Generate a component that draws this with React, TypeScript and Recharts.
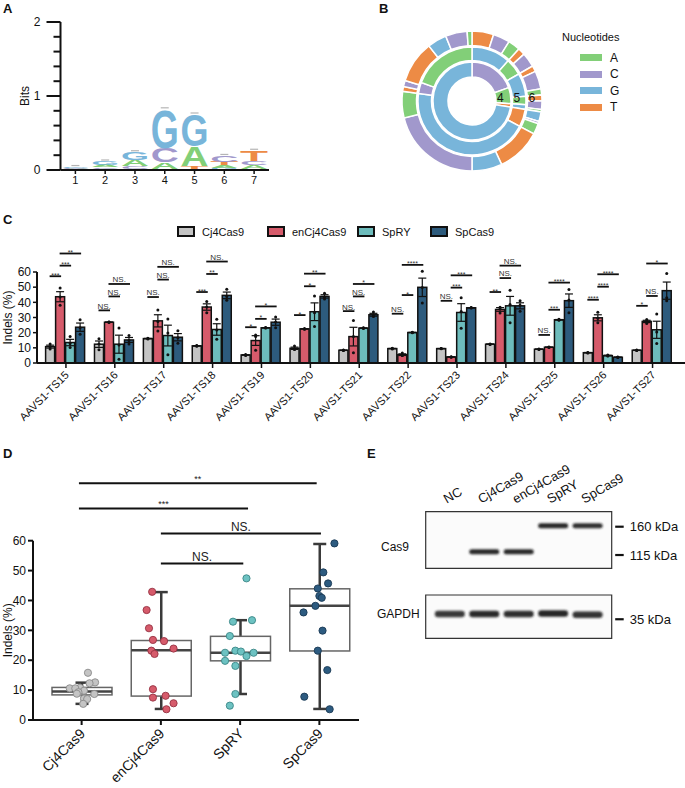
import React from "react";
import {
  BarChart,
  Bar,
  XAxis,
  YAxis,
  ErrorBar,
  PieChart,
  Pie,
  Cell,
  ComposedChart,
  Scatter,
  ScatterChart,
  ReferenceLine,
  ReferenceArea,
} from "recharts";

const FONT = "'Liberation Sans', Arial, Helvetica, sans-serif";
const INK = "#111";

const NT_COLORS: Record<string, string> = {
  A: "#82cf78",
  C: "#a198cc",
  G: "#78b5da",
  T: "#ed8b45",
};

// ---------- A: sequence logo (bits per position, letters bottom -> top)
const logoPositions = ["1", "2", "3", "4", "5", "6", "7"];
const logoLetters = [
  ["T", "A", "C", "G"],
  ["T", "C", "A", "G"],
  ["T", "C", "A", "G"],
  ["T", "A", "C", "G"],
  ["C", "T", "A", "G"],
  ["G", "A", "T", "C"],
  ["G", "A", "C", "T"],
];
const logoBits = [
  [0.008, 0.01, 0.01, 0.012],
  [0.015, 0.02, 0.035, 0.045],
  [0.015, 0.035, 0.09, 0.1],
  [0.02, 0.09, 0.19, 0.52],
  [0.02, 0.03, 0.27, 0.43],
  [0.03, 0.035, 0.045, 0.08],
  [0.02, 0.045, 0.055, 0.14],
];
const logoTicks = [0, 0.2, 0.4, 0.6, 0.8, 1, 1.2, 1.4, 1.6, 1.8, 2];

// ---------- B: sunburst rings (positions 4, 5, 6), sizes in degrees, clockwise from 12 o'clock
const ring4Nt = ["C", "A", "T", "G"];
const ring4Size = [70, 24, 5, 261];
const ring5Nt = ["G", "A", "G", "A", "G", "T", "G", "C", "A"];
const ring5Size = [42, 18, 25, 9, 5, 19, 160, 12, 70];
const ring6Nt = ["T", "C", "A", "T", "C", "T", "C", "A", "T", "C", "A", "G", "C", "A", "T", "G", "C", "A", "T", "C", "T", "G", "C", "A"];
const ring6Size = [18, 14, 10, 6, 12, 5, 15, 5, 5, 7, 2, 8, 2, 9, 37, 25, 76, 22, 4, 5, 35, 16, 18, 4];
const nucleotides = ["A", "C", "G", "T"];

// ---------- C: indels per target site
const sites = [
  "AAVS1-TS15", "AAVS1-TS16", "AAVS1-TS17", "AAVS1-TS18", "AAVS1-TS19", "AAVS1-TS20", "AAVS1-TS21",
  "AAVS1-TS22", "AAVS1-TS23", "AAVS1-TS24", "AAVS1-TS25", "AAVS1-TS26", "AAVS1-TS27",
];
const cj4Mean = [10.8, 12.4, 16.1, 11.3, 5.3, 9.7, 8.4, 9.5, 9.5, 12.4, 9.1, 6.8, 8.4];
const enMean = [43.7, 26.9, 27.8, 36.9, 14.8, 22.5, 17.4, 5.5, 4.0, 35.3, 10.4, 29.8, 27.4];
const spryMean = [13.5, 12.4, 18.1, 22.1, 23.2, 33.8, 23.0, 20.1, 33.3, 37.7, 28.5, 4.9, 21.9];
const spMean = [23.6, 15.2, 17.0, 44.6, 26.9, 43.9, 31.8, 49.9, 36.4, 37.7, 41.1, 3.8, 47.7];

const cj4Reps = [
  [12.6, 10.5, 9.3], [16.0, 12.5, 8.7], [16.3, 15.9, 16.1], [11.1, 11.5, 11.3], [5.6, 5.0, 5.3],
  [11.2, 9.0, 8.9], [8.6, 8.2, 8.4], [9.7, 9.3, 9.5], [9.6, 9.4, 9.5], [12.6, 12.2, 12.4],
  [9.3, 8.9, 9.1], [7.0, 6.6, 6.8], [8.6, 8.2, 8.4],
];
const enReps = [
  [49.5, 43.5, 38.0], [26.7, 27.0, 27.0], [35.0, 27.3, 21.1], [40.5, 37.0, 33.2], [18.5, 17.5, 8.4],
  [22.3, 22.5, 22.7], [28.0, 17.5, 6.7], [6.6, 5.0, 4.9], [4.2, 4.0, 3.8], [36.8, 36.2, 32.9],
  [10.6, 10.4, 10.2], [33.4, 29.5, 26.5], [28.6, 27.6, 26.0],
];
const spryReps = [
  [17.4, 12.9, 10.2], [23.0, 11.8, 2.4], [29.0, 19.8, 5.5], [28.8, 21.8, 15.7], [23.4, 23.2, 23.0],
  [44.2, 33.2, 24.0], [23.2, 23.0, 22.8], [20.3, 20.1, 19.9], [43.0, 34.0, 22.9], [48.0, 38.5, 26.6],
  [28.8, 28.5, 28.2], [5.3, 4.8, 4.6], [32.3, 20.5, 12.9],
];
const spReps = [
  [28.5, 23.3, 19.0], [18.2, 14.8, 12.6], [21.3, 16.7, 13.0], [48.7, 43.8, 41.3], [30.4, 27.0, 23.3],
  [46.0, 43.5, 42.2], [33.7, 31.0, 30.7], [60.5, 49.7, 39.5], [36.6, 36.4, 36.2], [41.0, 38.0, 34.1],
  [48.5, 41.6, 33.2], [3.9, 3.8, 3.7], [59.0, 43.0, 41.1],
];

// [from bar, to bar, height (%), label]
const siteBrackets: [number, number, number, string][][] = [
  [[0, 1, 57.2, "***"], [1, 2, 64.2, "***"], [1, 3, 72.2, "**"]],
  [[0, 1, 34.7, "NS."], [1, 2, 43.9, "NS."], [1, 3, 52.1, "NS."]],
  [[0, 1, 43.5, "NS."], [1, 2, 55.0, "NS."], [1, 3, 63.4, "NS."]],
  [[0, 1, 46.8, "***"], [1, 2, 58.7, "**"], [1, 3, 66.9, "NS."]],
  [[0, 1, 23.6, "*"], [1, 2, 29.1, "*"], [1, 3, 37.3, "*"]],
  [[0, 1, 31.6, "*"], [1, 2, 50.6, "*"], [1, 3, 58.9, "**"]],
  [[0, 1, 34.2, "NS."], [1, 2, 43.9, "NS."], [1, 3, 52.1, "*"]],
  [[0, 1, 32.5, "NS."], [1, 2, 44.8, "*"], [1, 3, 64.7, "****"]],
  [[0, 1, 41.0, "NS."], [1, 2, 49.7, "***"], [1, 3, 57.8, "***"]],
  [[0, 1, 46.8, "**"], [1, 2, 56.0, "NS."], [1, 3, 64.2, "NS."]],
  [[0, 1, 18.5, "NS."], [1, 2, 35.1, "***"], [1, 3, 53.0, "****"]],
  [[0, 1, 41.7, "****"], [1, 2, 50.3, "****"], [1, 3, 58.5, "****"]],
  [[0, 1, 37.7, "*"], [1, 2, 44.2, "NS."], [1, 3, 65.6, "*"]],
];

const SERIES = [
  { key: "cj4", name: "Cj4Cas9", color: "#c4c4c4", mean: cj4Mean, reps: cj4Reps },
  { key: "en", name: "enCj4Cas9", color: "#d65b6b", mean: enMean, reps: enReps },
  { key: "spry", name: "SpRY", color: "#6dbcbc", mean: spryMean, reps: spryReps },
  { key: "sp", name: "SpCas9", color: "#2d5b7d", mean: spMean, reps: spReps },
];

// ---------- D: distribution over sites
const groups = ["Cj4Cas9", "enCj4Cas9", "SpRY", "SpCas9"];
const boxQ1 = [8.4, 8.0, 19.8, 23.1];
const boxMedian = [9.5, 23.3, 22.5, 38.2];
const boxQ3 = [10.9, 26.6, 28.0, 43.9];
const whiskerLow = [5.4, 3.7, 8.7, 3.7];
const whiskerHigh = [12.5, 42.8, 33.4, 58.9];
const dotValues = [
  [15.8, 12.6, 12.3, 10.8, 10.6, 10.6, 9.8, 9.3, 8.8, 8.7, 7.2, 7.0, 5.4],
  [42.9, 36.8, 30.7, 26.8, 26.4, 23.9, 23.2, 22.1, 10.3, 8.1, 7.5, 5.6, 3.6],
  [47.4, 33.4, 32.9, 28.1, 23.2, 22.9, 22.5, 22.5, 21.4, 19.8, 18.1, 8.7, 4.8],
  [59.1, 49.4, 45.7, 44.0, 41.5, 40.9, 38.2, 36.0, 29.9, 23.2, 16.7, 7.8, 3.6],
];
const dotJitter = [
  [0.08, 0.17, 0.1, -0.02, -0.15, -0.08, 0.03, -0.04, -0.06, 0.16, 0.03, 0.07, 0.02],
  [-0.11, -0.18, -0.15, -0.1, 0.04, 0.16, -0.12, -0.08, -0.1, 0.06, -0.1, 0.16, 0.07],
  [0.08, 0.15, -0.09, -0.13, -0.06, 0.01, -0.19, 0.17, 0.08, -0.19, -0.06, -0.06, -0.13],
  [0.19, 0.05, 0.11, -0.02, 0.0, 0.03, -0.05, -0.2, 0.04, -0.02, 0.1, -0.19, 0.13],
];
const dotFill = ["#c4c4c4", "#d65b6b", "#6dc2c2", "#2d5b80"];
const dotStroke = ["#8a8a8a", "#963243", "#3b8787", "#1b3a55"];
const groupBrackets = [
  { from: 0.966, to: 3.966, y: 79.2, label: "**" },
  { from: 0.966, to: 3.1, y: 70.8, label: "***" },
  { from: 2.0, to: 4.02, y: 62.4, label: "NS." },
  { from: 2.0, to: 3.04, y: 52.4, label: "NS." },
];

// ---------- E: western blot
const lanes = ["NC", "Cj4Cas9", "enCj4Cas9", "SpRY", "SpCas9"];
const cas9BandLane = [2, 3, 4, 5];
const cas9BandKda = [119.5, 119.5, 162, 162];
const cas9BandLevel = [0.95, 0.95, 0.95, 0.92];
const gapdhBandLane = [1, 2, 3, 4, 5];
const gapdhBandKda = [37.2, 37.2, 37.2, 37.4, 36.9];
const gapdhBandLevel = [0.88, 0.94, 0.92, 0.96, 0.9];
const cas9Markers = [160, 115];
const gapdhMarkers = [35];

// ---------- derived tables
const logoData = logoPositions.map((pos, i) => {
  const row: any = { pos };
  logoLetters[i].forEach((nt, k) => {
    row[`b${k}`] = logoBits[i][k];
    row[`n${k}`] = nt;
  });
  return row;
});

const ring = (nts: string[], sizes: number[]) => nts.map((nt, i) => ({ nt, value: sizes[i] }));
const rings = [
  { label: "4", data: ring(ring4Nt, ring4Size), inner: 24, outer: 39 },
  { label: "5", data: ring(ring5Nt, ring5Size), inner: 40.5, outer: 54 },
  { label: "6", data: ring(ring6Nt, ring6Size), inner: 55.5, outer: 70 },
];

const sem = (xs: number[]) => {
  const m = xs.reduce((a, b) => a + b, 0) / xs.length;
  const v = xs.reduce((a, b) => a + (b - m) ** 2, 0) / (xs.length - 1);
  return Math.sqrt(v / xs.length);
};

const indelData = sites.map((site, i) => {
  const row: any = { site, brackets: siteBrackets[i] };
  SERIES.forEach((s) => {
    row[s.key] = s.mean[i];
    row[`${s.key}Err`] = sem(s.reps[i]);
    row[`${s.key}Reps`] = s.reps[i];
  });
  return row;
});

const boxData = groups.map((name, i) => ({
  name,
  whisk: [whiskerLow[i], whiskerHigh[i]],
  lo: whiskerLow[i],
  hi: whiskerHigh[i],
  q1: boxQ1[i],
  med: boxMedian[i],
  q3: boxQ3[i],
}));
const dotData = dotValues.map((vals, g) => vals.map((v, i) => ({ x: g + 1 + dotJitter[g][i], y: v })));

const cas9Data = cas9BandLane.map((lane, i) => ({ lane, kda: cas9BandKda[i], level: cas9BandLevel[i] }));
const gapdhData = gapdhBandLane.map((lane, i) => ({ lane, kda: gapdhBandKda[i], level: gapdhBandLevel[i] }));

// ---------- shared pieces
const axisTitle = (text: string, cx: number) => (p: any) => {
  const vb = p.viewBox || {};
  const cy = (vb.y || 0) + (vb.height || 0) / 2;
  return (
    <text x={cx} y={cy} transform={`rotate(-90 ${cx} ${cy})`} textAnchor="middle" dominantBaseline="central" fontSize={12} fill={INK} fontFamily={FONT}>
      {text}
    </text>
  );
};

const Txt = ({ x, y, size = 12, bold = false, children }: any) => (
  <div style={{ position: "absolute", left: x, top: y, transform: "translateY(-50%)", fontSize: size, lineHeight: 1, fontWeight: bold ? 700 : 400, whiteSpace: "nowrap" }}>
    {children}
  </div>
);

// ---------- A shapes
const LogoLetter = (p: any) => {
  const { x, y, width, height, nt, top } = p;
  const h = Math.abs(height);
  const yTop = Math.min(y, y + height);
  return (
    <g>
      {h > 0.4 && (
        <text
          x={0}
          y={0}
          fontSize={100}
          fontWeight="bold"
          fontFamily={FONT}
          fill={NT_COLORS[nt]}
          textLength={width}
          lengthAdjust="spacingAndGlyphs"
          transform={`translate(${x},${yTop + h}) scale(1,${h / 72})`}
        >
          {nt}
        </text>
      )}
      {top && <line x1={x + width / 2 - 4} x2={x + width / 2 + 4} y1={yTop - 1.5} y2={yTop - 1.5} stroke="#b5b5b5" strokeWidth={1.2} />}
    </g>
  );
};

const LogoTick = (p: any) => {
  const v = p.payload.value;
  const major = Number.isInteger(v);
  return (
    <g>
      <line x1={p.x - (major ? 14 : 7)} x2={p.x} y1={p.y} y2={p.y} stroke={INK} strokeWidth={2} />
      {major && (
        <text x={p.x - 20} y={p.y} dy="0.35em" textAnchor="end" fontSize={12} fill={INK}>
          {v}
        </text>
      )}
    </g>
  );
};

// ---------- C shapes
const BAR_GAP = 1;
const makeIndelBar = (key: string, color: string, withBrackets: boolean) => (p: any) => {
  const { x, y, width, height, payload } = p;
  const val = payload[key];
  const top = Math.min(y, y + height);
  const h = Math.abs(height);
  const base = top + h;
  const ppu = h / val;
  const cx = x + width / 2;
  return (
    <g>
      <rect x={x} y={top} width={width} height={h} fill={color} stroke={INK} strokeWidth={1.5} />
      {payload[`${key}Reps`].map((r: number, j: number) => (
        <circle key={j} cx={cx} cy={base - r * ppu} r={1.5} fill={INK} />
      ))}
      {withBrackets &&
        payload.brackets.map(([a, b, lvl, lab]: any, j: number) => {
          const x1 = x + a * (width + BAR_GAP) + width / 2 - 0.5;
          const x2 = x + b * (width + BAR_GAP) + width / 2 + 1;
          const yy = base - lvl * ppu;
          const star = lab !== "NS.";
          return (
            <g key={`b${j}`}>
              <line x1={x1} x2={x2} y1={yy} y2={yy} stroke={INK} strokeWidth={1.8} />
              <text x={(x1 + x2) / 2} y={star ? yy + 1.5 : yy - 1.6} textAnchor="middle" fontSize={star ? 7 : 8} fill="#333" fontFamily={FONT}>
                {lab}
              </text>
            </g>
          );
        })}
    </g>
  );
};

const SiteTick = (p: any) => (
  <g transform={`translate(${p.x + 1},${p.y + 3})`}>
    <text x={0} y={0} dy="0.35em" textAnchor="end" transform="rotate(-45)" fontSize={11} fill={INK} fontFamily={FONT}>
      {p.payload.value}
    </text>
  </g>
);

// ---------- D shapes
const BoxShape = (p: any) => {
  const { x, y, width, height, payload } = p;
  const top = Math.min(y, y + height);
  const h = Math.abs(height);
  const ppu = h / (payload.hi - payload.lo);
  const py = (v: number) => top + (payload.hi - v) * ppu;
  const cx = x + width / 2;
  const cap = 6.5;
  return (
    <g>
      <line x1={cx} x2={cx} y1={py(payload.hi)} y2={py(payload.lo)} stroke="#3a3a3a" strokeWidth={2.5} />
      <line x1={cx - cap} x2={cx + cap} y1={py(payload.hi)} y2={py(payload.hi)} stroke="#3a3a3a" strokeWidth={2.5} />
      <line x1={cx - cap} x2={cx + cap} y1={py(payload.lo)} y2={py(payload.lo)} stroke="#3a3a3a" strokeWidth={2.5} />
      <rect x={x} y={py(payload.q3)} width={width} height={py(payload.q1) - py(payload.q3)} fill="#fff" stroke="#666" strokeWidth={1.5} />
      <line x1={x} x2={x + width} y1={py(payload.med)} y2={py(payload.med)} stroke="#444" strokeWidth={2.5} />
    </g>
  );
};

const GroupTick = (p: any) => (
  <g transform={`translate(${p.x + 1},${p.y + 4})`}>
    <text x={0} y={0} dy="0.35em" textAnchor="end" transform="rotate(-45)" fontSize={14} fill={INK} fontFamily={FONT}>
      {p.payload.value}
    </text>
  </g>
);

const bracketLabel = (text: string) => (p: any) => {
  const vb = p.viewBox || {};
  const cx = (vb.x || 0) + (vb.width || 0) / 2;
  const star = text !== "NS.";
  return (
    <text x={cx} y={(vb.y || 0) + (star ? -1.4 : -2.5)} textAnchor="middle" fontSize={star ? 9 : 12} fill="#222" fontFamily={FONT}>
      {text}
    </text>
  );
};

// ---------- E shapes
const makeBand = (thick: number) => (p: any) => {
  const { cx, cy, payload } = p;
  return (
    <g>
      <defs>
        <filter id="bandBlur" x="-30%" y="-200%" width="160%" height="500%">
          <feGaussianBlur stdDeviation="1.1" />
        </filter>
      </defs>
      <rect x={cx - 15} y={cy - thick / 2} width={30} height={thick} rx={thick / 2} fill="#1c1c1c" fillOpacity={payload.level} filter="url(#bandBlur)" />
    </g>
  );
};

const LaneTick = (p: any) => {
  const x = p.x - 3;
  const y = p.y - 8;
  return (
    <text x={x} y={y} transform={`rotate(-30 ${x} ${y})`} textAnchor="start" fontSize={13} fill={INK} fontFamily={FONT}>
      {lanes[p.payload.value - 1]}
    </text>
  );
};

const MarkerTick = (p: any) => (
  <g>
    <line x1={p.x + 3.5} x2={p.x + 12} y1={p.y} y2={p.y} stroke={INK} strokeWidth={2.2} />
    <text x={p.x + 18} y={p.y} dy="0.35em" fontSize={13} fill={INK} fontFamily={FONT}>
      {`${p.payload.value} kDa`}
    </text>
  </g>
);

const axisLine = { stroke: INK, strokeWidth: 2 };
const tickLine = { stroke: INK, strokeWidth: 1.5 };
const C_LEGEND_X = [177, 267, 357, 430];

export default function App() {
  return (
    <div style={{ position: "absolute", left: 0, top: 0, width: 685, height: 788, background: "#fff", fontFamily: FONT, color: INK, overflow: "hidden" }}>
      {/* panel letters */}
      <Txt x={3} y={8} size={13} bold>A</Txt>
      <Txt x={379} y={8} size={13} bold>B</Txt>
      <Txt x={3} y={219} size={13} bold>C</Txt>
      <Txt x={3} y={453} size={13} bold>D</Txt>
      <Txt x={367} y={453} size={13} bold>E</Txt>

      {/* A */}
      <div style={{ position: "absolute", left: 0, top: 0 }}>
        <BarChart width={280} height={195} data={logoData} margin={{ top: 22, right: 11, bottom: 0, left: 0 }} barCategoryGap="3%">
          <XAxis dataKey="pos" height={25} axisLine={axisLine} tickLine={tickLine} tickSize={4} tick={{ fontSize: 11, fill: INK }} />
          <YAxis
            width={60.5}
            domain={[0, 2]}
            ticks={logoTicks}
            interval={0}
            axisLine={axisLine}
            tickLine={false}
            tickSize={0}
            tickMargin={0}
            tick={<LogoTick />}
            label={{ position: "insideLeft", content: axisTitle("Bits", 25) }}
          />
          {[0, 1, 2, 3].map((k) => (
            <Bar
              key={k}
              dataKey={`b${k}`}
              stackId="logo"
              isAnimationActive={false}
              shape={(p: any) => <LogoLetter {...p} nt={p.payload[`n${k}`]} top={k === 3} />}
            />
          ))}
        </BarChart>
      </div>

      {/* B */}
      <div style={{ position: "absolute", left: 397, top: 26 }}>
        <PieChart width={150} height={150}>
          {rings.map((r) => (
            <Pie
              key={r.label}
              data={r.data}
              dataKey="value"
              cx="50%"
              cy="50%"
              innerRadius={r.inner}
              outerRadius={r.outer}
              startAngle={90}
              endAngle={-270}
              stroke="#fff"
              strokeWidth={1.5}
              isAnimationActive={false}
              labelLine={false}
              label={(p: any) =>
                p.index === 0 ? (
                  <text x={p.cx + r.inner + 1} y={p.cy - 3} textAnchor="start" dominantBaseline="central" fontSize={12} fill={INK} fontFamily={FONT}>
                    {r.label}
                  </text>
                ) : null
              }
            >
              {r.data.map((d, i) => (
                <Cell key={i} fill={NT_COLORS[d.nt]} />
              ))}
            </Pie>
          ))}
        </PieChart>
      </div>
      <Txt x={562} y={37} size={11}>Nucleotides</Txt>
      {nucleotides.map((nt, i) => (
        <React.Fragment key={nt}>
          <div style={{ position: "absolute", left: 580, top: 54 + i * 16.5, width: 22, height: 7, background: NT_COLORS[nt] }} />
          <Txt x={610} y={57.5 + i * 16.5} size={12}>{nt}</Txt>
        </React.Fragment>
      ))}

      {/* C legend */}
      {SERIES.map((s, i) => (
        <React.Fragment key={s.key}>
          <div style={{ position: "absolute", left: C_LEGEND_X[i], top: 226, width: 14, height: 7, background: s.color, border: `2px solid ${INK}` }} />
          <Txt x={C_LEGEND_X[i] + 25} y={232} size={11}>{s.name}</Txt>
        </React.Fragment>
      ))}

      {/* C */}
      <div style={{ position: "absolute", left: 0, top: 240 }}>
        <BarChart width={685} height={210} data={indelData} margin={{ top: 32, right: 0, bottom: 0, left: 0 }} barCategoryGap="8.4%" barGap={BAR_GAP}>
          <XAxis dataKey="site" interval={0} height={87} padding={{ left: 4.5, right: 8 }} axisLine={axisLine} tickLine={tickLine} tickSize={5} tick={<SiteTick />} />
          <YAxis
            width={37}
            domain={[0, 60]}
            ticks={[0, 10, 20, 30, 40, 50, 60]}
            interval={0}
            axisLine={axisLine}
            tickLine={tickLine}
            tickSize={4}
            tickMargin={2}
            tick={{ fontSize: 12, fill: INK }}
            label={{ position: "insideLeft", content: axisTitle("Indels (%)", 8) }}
          />
          {SERIES.map((s, i) => (
            <Bar key={s.key} dataKey={s.key} name={s.name} isAnimationActive={false} shape={makeIndelBar(s.key, s.color, i === 0)}>
              <ErrorBar dataKey={`${s.key}Err`} width={4} stroke={INK} strokeWidth={1.2} isAnimationActive={false} />
            </Bar>
          ))}
        </BarChart>
      </div>

      {/* D */}
      <div style={{ position: "absolute", left: 0, top: 465 }}>
        <ComposedChart width={360} height={323} data={boxData} margin={{ top: 75.7, right: 1, bottom: 0, left: 0 }}>
          <XAxis xAxisId="c" dataKey="name" interval={0} height={68} padding={{ left: 9, right: 0 }} axisLine={axisLine} tickLine={{ stroke: INK, strokeWidth: 2 }} tickSize={5} tick={<GroupTick />} />
          <XAxis xAxisId="n" type="number" dataKey="x" domain={[0.5, 4.5]} padding={{ left: 9, right: 0 }} hide allowDataOverflow />
          <YAxis
            width={33}
            domain={[0, 60]}
            ticks={[0, 10, 20, 30, 40, 50, 60]}
            interval={0}
            axisLine={axisLine}
            tickLine={{ stroke: INK, strokeWidth: 2 }}
            tickSize={5}
            tickMargin={2}
            tick={{ fontSize: 12, fill: INK }}
            label={{ position: "insideLeft", content: axisTitle("Indels (%)", 8) }}
          />
          <Bar xAxisId="c" dataKey="whisk" barSize={60} isAnimationActive={false} shape={BoxShape} />
          {dotData.map((d, g) => (
            <Scatter
              key={groups[g]}
              xAxisId="n"
              data={d}
              dataKey="y"
              isAnimationActive={false}
              shape={(p: any) => <circle cx={p.cx} cy={p.cy} r={3.6} fill={dotFill[g]} stroke={dotStroke[g]} strokeWidth={0.9} />}
            />
          ))}
          {groupBrackets.map((b, i) => (
            <ReferenceLine
              key={i}
              xAxisId="n"
              segment={[{ x: b.from, y: b.y }, { x: b.to, y: b.y }]}
              ifOverflow="visible"
              stroke={INK}
              strokeWidth={2}
              label={{ content: bracketLabel(b.label) }}
            />
          ))}
        </ComposedChart>
      </div>

      {/* E */}
      <Txt x={381} y={547} size={12}>Cas9</Txt>
      <Txt x={377} y={614} size={12}>GAPDH</Txt>
      <div style={{ position: "absolute", left: 400, top: 465 }}>
        <ScatterChart width={285} height={110} margin={{ top: 0, right: 0, bottom: 6.7, left: 25.7 }}>
          <XAxis type="number" dataKey="lane" domain={[0.3, 5.7]} orientation="top" height={46.7} ticks={[1, 2, 3, 4, 5]} interval={0} axisLine={false} tickLine={false} tickSize={0} tickMargin={0} tick={<LaneTick />} />
          <YAxis type="number" dataKey="kda" scale="log" domain={[98.5, 190.6]} orientation="right" width={73.3} ticks={cas9Markers} interval={0} axisLine={false} tickLine={false} tickSize={0} tickMargin={0} tick={<MarkerTick />} />
          <ReferenceArea x1={0.3} x2={5.7} y1={98.5} y2={190.6} fill="#fbfbfb" fillOpacity={1} stroke="#333" strokeWidth={1.2} ifOverflow="visible" />
          <Scatter data={cas9Data} isAnimationActive={false} shape={makeBand(5)} />
        </ScatterChart>
      </div>
      <div style={{ position: "absolute", left: 400, top: 590 }}>
        <ScatterChart width={285} height={55} margin={{ top: 5, right: 0, bottom: 6.7, left: 25.7 }}>
          <XAxis type="number" dataKey="lane" domain={[0.3, 5.7]} hide />
          <YAxis type="number" dataKey="kda" scale="log" domain={[28.0, 46.5]} orientation="right" width={73.3} ticks={gapdhMarkers} interval={0} axisLine={false} tickLine={false} tickSize={0} tickMargin={0} tick={<MarkerTick />} />
          <ReferenceArea x1={0.3} x2={5.7} y1={28.0} y2={46.5} fill="#fbfbfb" fillOpacity={1} stroke="#333" strokeWidth={1.2} ifOverflow="visible" />
          <Scatter data={gapdhData} isAnimationActive={false} shape={makeBand(6.5)} />
        </ScatterChart>
      </div>
    </div>
  );
}
